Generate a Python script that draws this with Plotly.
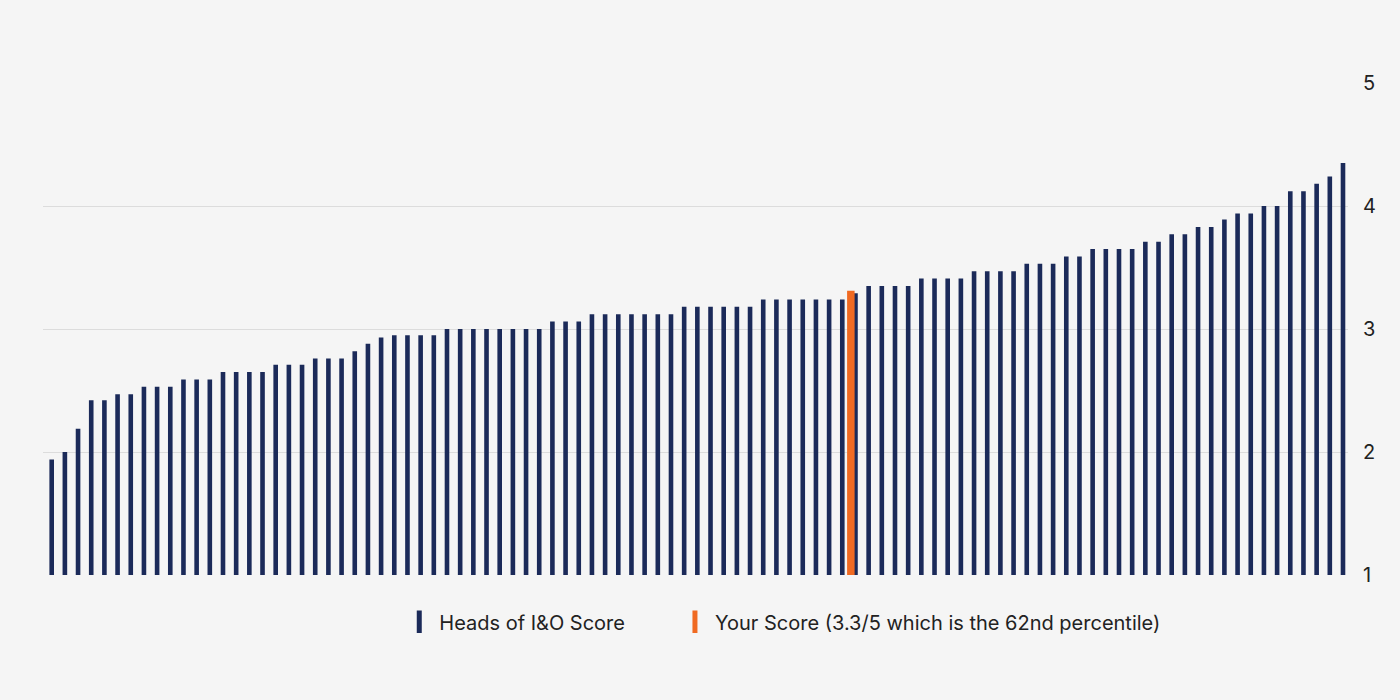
import plotly.graph_objects as go

# score of each head of I&O, sorted low to high
positions = list(range(1, 100))
scores = [
    1.94, 2.00, 2.19, 2.42, 2.42, 2.47, 2.47, 2.53, 2.53, 2.53,
    2.59, 2.59, 2.59, 2.65, 2.65, 2.65, 2.65, 2.71, 2.71, 2.71,
    2.76, 2.76, 2.76, 2.82, 2.88, 2.93, 2.95, 2.95, 2.95, 2.95,
    3.00, 3.00, 3.00, 3.00, 3.00, 3.00, 3.00, 3.00, 3.06, 3.06,
    3.06, 3.12, 3.12, 3.12, 3.12, 3.12, 3.12, 3.12, 3.18, 3.18,
    3.18, 3.18, 3.18, 3.18, 3.24, 3.24, 3.24, 3.24, 3.24, 3.24,
    3.24, 3.29, 3.35, 3.35, 3.35, 3.35, 3.41, 3.41, 3.41, 3.41,
    3.47, 3.47, 3.47, 3.47, 3.53, 3.53, 3.53, 3.59, 3.59, 3.65,
    3.65, 3.65, 3.65, 3.71, 3.71, 3.77, 3.77, 3.83, 3.83, 3.89,
    3.94, 3.94, 4.00, 4.00, 4.12, 4.12, 4.18, 4.24, 4.35,
]

your_position = [61.65]
your_score = [3.31]

y_ticks = [1, 2, 3, 4, 5]

navy = "#1b2a59"
orange = "#f06a22"
bg = "#f5f5f5"

fig = go.Figure()

fig.add_trace(go.Bar(
    x=positions, y=scores, width=0.35,
    marker=dict(color=navy, line=dict(width=0)),
    showlegend=False, hoverinfo="y",
))
fig.add_trace(go.Bar(
    x=your_position, y=your_score, width=0.57,
    marker=dict(color=orange, line=dict(width=0)),
    showlegend=False, hoverinfo="y",
))

# legend entries with narrow upright swatches
pad = "\u00a0" * 8
fig.add_trace(go.Scatter(
    x=[None], y=[None], mode="markers", name="Heads of I&O Score" + pad,
    marker=dict(symbol="line-ns", size=16, color=navy, line=dict(color=navy, width=5)),
))
fig.add_trace(go.Scatter(
    x=[None], y=[None], mode="markers", name="Your Score (3.3/5 which is the 62nd percentile)",
    marker=dict(symbol="line-ns", size=16, color=orange, line=dict(color=orange, width=5)),
))

# margins allow for the 8px page margin of the browser
fig.update_layout(
    width=1400, height=700,
    paper_bgcolor=bg, plot_bgcolor=bg,
    barmode="overlay",
    margin=dict(l=35, r=60, t=75, b=133),
    font=dict(family="Inter, Roboto, sans-serif", color="#222222", size=20),
    xaxis=dict(
        range=[0.34, 99.38], showgrid=False, zeroline=False,
        showticklabels=False, ticks="", showline=False, fixedrange=True,
    ),
    yaxis=dict(
        side="right", range=[1, 5], tickvals=y_ticks,
        showgrid=True, gridcolor="#dcdcdc", gridwidth=1,
        zeroline=False, showline=False, ticks="",
        ticklabelstandoff=14, tickfont=dict(size=20, color="#222222"),
    ),
    legend=dict(
        orientation="h", xanchor="left", x=0.273, yanchor="middle", y=-0.095,
        bgcolor="rgba(0,0,0,0)", font=dict(size=20, color="#222222"),
    ),
)

fig.write_html("out.html", post_script="document.body.style.background='%s';" % bg)
